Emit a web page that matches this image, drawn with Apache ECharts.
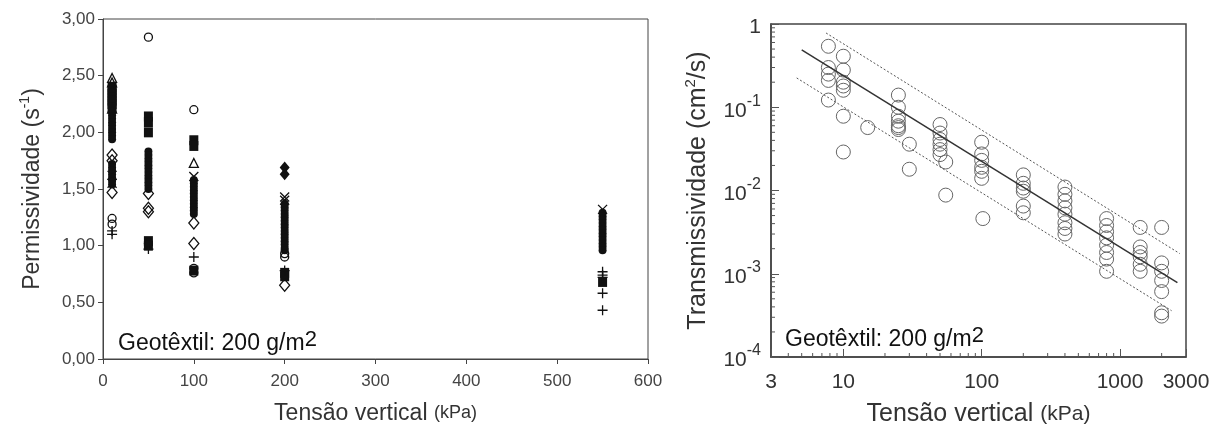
<!DOCTYPE html>
<html>
<head>
<meta charset="utf-8">
<script src="https://cdn.jsdelivr.net/npm/echarts@6/dist/echarts.min.js"></script>
<style>
html, body { margin: 0; background: #fff; }
#chart { width: 1222px; height: 432px; }
</style>
</head>
<body>
<div id="chart"></div>
<script>
// permissividade (s-1) x tensao vertical (kPa), one array per marker type
var circulosAbertos = [[10, 1.24], [10, 1.19], [50, 2.84], [50, 1.02], [100, 2.20], [100, 0.80], [100, 0.76], [200, 0.93], [200, 0.90]];
var quadradosCheios = [[10, 2.40], [10, 2.37], [10, 2.34], [10, 2.31], [10, 2.28], [10, 2.25], [10, 2.22], [50, 2.14], [50, 2.09], [50, 2.00], [50, 1.04], [50, 1.00], [100, 1.93], [100, 1.88], [100, 0.78], [200, 0.76], [200, 0.73], [550, 0.68]];
var triangulosAbertos = [[10, 2.48], [10, 2.44], [10, 2.21], [100, 1.73]];
var losangosAbertos = [[10, 1.80], [10, 1.75], [10, 1.47], [50, 1.46], [50, 1.33], [50, 1.30], [100, 1.20], [100, 1.02], [200, 0.65]];
var losangosCheios = [[200, 1.69], [200, 1.63]];
var cruzes = [[10, 1.62], [10, 1.55], [100, 1.61], [200, 1.43], [200, 1.40], [550, 1.32]];
var mais = [[10, 1.13], [10, 1.10], [50, 0.97], [100, 0.90], [200, 0.78], [550, 0.77], [550, 0.74], [550, 0.72], [550, 0.58], [550, 0.43]];
var pontosCheios = [
  [10, 2.18], [10, 2.15], [10, 2.12], [10, 2.09], [10, 2.06], [10, 2.03], [10, 2.00], [10, 1.97], [10, 1.94],
  [10, 1.72], [10, 1.69], [10, 1.66], [10, 1.63], [10, 1.60], [10, 1.57], [10, 1.54],
  [50, 1.83], [50, 1.80], [50, 1.77], [50, 1.74], [50, 1.71], [50, 1.68], [50, 1.65], [50, 1.62], [50, 1.59], [50, 1.56], [50, 1.53], [50, 1.50],
  [100, 1.58], [100, 1.55], [100, 1.52], [100, 1.49], [100, 1.46], [100, 1.43], [100, 1.40], [100, 1.37], [100, 1.34], [100, 1.31], [100, 1.28],
  [200, 1.37], [200, 1.34], [200, 1.31], [200, 1.28], [200, 1.25], [200, 1.22], [200, 1.19], [200, 1.16], [200, 1.13], [200, 1.10], [200, 1.07], [200, 1.04], [200, 1.01], [200, 0.98], [200, 0.96],
  [550, 1.29], [550, 1.26], [550, 1.23], [550, 1.20], [550, 1.17], [550, 1.14], [550, 1.11], [550, 1.08], [550, 1.05], [550, 1.02], [550, 0.99], [550, 0.96]
];

// transmissividade (cm2/s) x tensao vertical (kPa)
var transmissividade = [
  [7.8, 0.54], [7.8, 0.30], [7.8, 0.25], [7.8, 0.21], [7.8, 0.122],
  [10, 0.41], [10, 0.28], [10, 0.20], [10, 0.18], [10, 0.16], [10, 0.078], [10, 0.029],
  [15, 0.057],
  [25, 0.14], [25, 0.10], [25, 0.078], [25, 0.068], [25, 0.060], [25, 0.057], [25, 0.054],
  [30, 0.036], [30, 0.018],
  [50, 0.062], [50, 0.049], [50, 0.041], [50, 0.036], [50, 0.031], [50, 0.027],
  [55, 0.022], [55, 0.0088],
  [100, 0.038], [100, 0.0275], [100, 0.023], [100, 0.019], [100, 0.017], [100, 0.014], [102, 0.0046],
  [200, 0.0154], [200, 0.0122], [200, 0.0107], [200, 0.0098], [200, 0.0065], [200, 0.0054],
  [400, 0.011], [400, 0.009], [400, 0.0075], [400, 0.0062], [400, 0.0052], [400, 0.0041], [400, 0.0035], [400, 0.0030],
  [800, 0.0046], [800, 0.0038], [800, 0.0032], [800, 0.0027], [800, 0.0022], [800, 0.0018], [800, 0.0015], [800, 0.00107],
  [1400, 0.0036], [1400, 0.0021], [1400, 0.0018], [1400, 0.0016], [1400, 0.0013], [1400, 0.00107],
  [2000, 0.0036], [2000, 0.00135], [2000, 0.00107], [2000, 0.00083], [2000, 0.00061], [2000, 0.00034], [2000, 0.00031]
];
var ajuste = [[5, 0.49], [2600, 0.00078]];
var limiteSuperior = [[7.5, 0.78], [2700, 0.00175]];
var limiteInferior = [[4.6, 0.225], [2360, 0.00036]];

var xTicksMenores = [4, 5, 6, 7, 8, 9, 20, 30, 40, 50, 60, 70, 80, 90, 200, 300, 400, 500, 600, 700, 800, 900, 2000];
var yTicksMenores = [0.0002, 0.0003, 0.0004, 0.0005, 0.0006, 0.0007, 0.0008, 0.0009,
  0.002, 0.003, 0.004, 0.005, 0.006, 0.007, 0.008, 0.009,
  0.02, 0.03, 0.04, 0.05, 0.06, 0.07, 0.08, 0.09,
  0.2, 0.3, 0.4, 0.5, 0.6, 0.7, 0.8, 0.9];

var fonte = '"Liberation Sans", Arial, sans-serif';
var plus = 'path://M0,5L10,5M5,0L5,10';
var cross = 'path://M0,0L10,10M10,0L0,10';

function aberto(c) { return { color: 'transparent', borderColor: c || '#111', borderWidth: 1.3, opacity: 1 }; }
var cheio = { color: '#111', opacity: 1 };

function tickMenor(dir) {
  return function (params, api) {
    var p = api.coord([api.value(0), api.value(1)]);
    var s = dir === 'x'
      ? { x1: p[0], y1: p[1], x2: p[0], y2: p[1] - 4 }
      : { x1: p[0], y1: p[1], x2: p[0] + 4, y2: p[1] };
    return { type: 'line', shape: s, style: { stroke: '#555', lineWidth: 1 } };
  };
}

function richNome(tam, sub) {
  return {
    a: { fontSize: tam, fontFamily: fonte, color: '#333', lineHeight: tam + 6 },
    b: { fontSize: Math.round(tam * 0.6), fontFamily: fonte, color: '#333', verticalAlign: 'top', lineHeight: tam + 6 },
    c: { fontSize: sub, fontFamily: fonte, color: '#333', lineHeight: tam + 6 }
  };
}
var richGeo = {
  a: { fontSize: 23, fontWeight: 'normal', fontFamily: fonte, color: '#111', lineHeight: 30 },
  b: { fontSize: 22, fontWeight: 'normal', fontFamily: fonte, color: '#111', verticalAlign: 'top', lineHeight: 30, padding: [0, 0, 8, 0] }
};

var option = {
  animation: false,
  backgroundColor: '#fff',
  title: [
    { text: '{a|Geotêxtil: 200 g/m}{b|2}', left: 113, top: 324, textStyle: { fontWeight: 'normal', rich: richGeo } },
    { text: '{a|Geotêxtil: 200 g/m}{b|2}', left: 780, top: 320, textStyle: { fontWeight: 'normal', rich: richGeo } }
  ],
  grid: [
    { left: 103, top: 19, width: 545, height: 340, show: true, borderColor: '#444', borderWidth: 1 },
    { left: 771, top: 24, width: 415, height: 341, show: true, borderColor: '#444', borderWidth: 1.5 }
  ],
  xAxis: [
    {
      gridIndex: 0, type: 'value', min: 0, max: 600, interval: 100,
      name: '{a|Tensão vertical }{c|(kPa)}', nameLocation: 'middle', nameGap: 40,
      nameTextStyle: { rich: richNome(23, 18) },
      axisLine: { lineStyle: { color: '#444', width: 1 } },
      axisTick: { show: true, inside: false, length: 5, lineStyle: { color: '#444' } },
      axisLabel: { color: '#444', fontSize: 17, fontFamily: fonte, margin: 14 },
      splitLine: { show: false }
    },
    {
      gridIndex: 1, type: 'log', logBase: 10, min: 3, max: 3000,
      name: '{a|Tensão vertical }{c|(kPa)}', nameLocation: 'middle', nameGap: 42,
      nameTextStyle: { rich: richNome(25, 21) },
      axisLine: { lineStyle: { color: '#444', width: 1.5 } },
      axisTick: { show: true, inside: true, length: 8, lineStyle: { color: '#555' } },
      axisLabel: {
        color: '#333', fontSize: 21, fontFamily: fonte, margin: 15,
        formatter: function (v) { return String(Math.round(v)); }
      },
      splitLine: { show: false }
    }
  ],
  yAxis: [
    {
      gridIndex: 0, type: 'value', min: 0, max: 3, interval: 0.5,
      name: '{a|Permissividade (s}{b|-1}{a|)}', nameLocation: 'middle', nameGap: 56, nameRotate: 90,
      nameTextStyle: { rich: richNome(23, 17) },
      axisLine: { show: true, lineStyle: { color: '#444', width: 1 } },
      axisTick: { show: true, inside: false, length: 5, lineStyle: { color: '#444' } },
      axisLabel: {
        color: '#444', fontSize: 17, fontFamily: fonte, margin: 8,
        formatter: function (v) { return v.toFixed(2).replace('.', ','); }
      },
      splitLine: { show: false }
    },
    {
      gridIndex: 1, type: 'log', logBase: 10, min: 0.0001, max: 1,
      name: '{a|Transmissividade (cm}{b|2}{a|/s)}', nameLocation: 'middle', nameGap: 57, nameRotate: 90,
      nameTextStyle: { rich: richNome(25, 21) },
      axisLine: { show: true, lineStyle: { color: '#444', width: 1.5 } },
      axisTick: { show: true, inside: true, length: 8, lineStyle: { color: '#555' } },
      axisLabel: {
        margin: 10,
        formatter: function (v) {
          var e = Math.round(Math.log10(v));
          return e === 0 ? '{a|1}' : '{a|10}{b|' + e + '}';
        },
        rich: {
          a: { fontSize: 21, fontFamily: fonte, color: '#333', lineHeight: 28, verticalAlign: 'bottom' },
          b: { fontSize: 16, fontFamily: fonte, color: '#333', lineHeight: 28, verticalAlign: 'top' }
        }
      },
      splitLine: { show: false }
    }
  ],
  series: [
    { type: 'scatter', xAxisIndex: 0, yAxisIndex: 0, data: pontosCheios, symbol: 'circle', symbolSize: 8, itemStyle: cheio },
    { type: 'scatter', xAxisIndex: 0, yAxisIndex: 0, data: quadradosCheios, symbol: 'rect', symbolSize: [9, 10], itemStyle: cheio },
    { type: 'scatter', xAxisIndex: 0, yAxisIndex: 0, data: losangosCheios, symbol: 'diamond', symbolSize: [10, 12], itemStyle: cheio },
    { type: 'scatter', xAxisIndex: 0, yAxisIndex: 0, data: circulosAbertos, symbol: 'circle', symbolSize: 8, itemStyle: aberto() },
    { type: 'scatter', xAxisIndex: 0, yAxisIndex: 0, data: triangulosAbertos, symbol: 'triangle', symbolSize: 9, itemStyle: aberto() },
    { type: 'scatter', xAxisIndex: 0, yAxisIndex: 0, data: losangosAbertos, symbol: 'diamond', symbolSize: [10, 12], itemStyle: aberto() },
    { type: 'scatter', xAxisIndex: 0, yAxisIndex: 0, data: cruzes, symbol: cross, symbolSize: 9, itemStyle: aberto() },
    { type: 'scatter', xAxisIndex: 0, yAxisIndex: 0, data: mais, symbol: plus, symbolSize: 10, itemStyle: aberto() },

    { type: 'line', xAxisIndex: 1, yAxisIndex: 1, data: limiteSuperior, symbol: 'none', lineStyle: { color: '#555', width: 1, type: [2, 2] } },
    { type: 'line', xAxisIndex: 1, yAxisIndex: 1, data: limiteInferior, symbol: 'none', lineStyle: { color: '#555', width: 1, type: [2, 2] } },
    { type: 'line', xAxisIndex: 1, yAxisIndex: 1, data: ajuste, symbol: 'none', lineStyle: { color: '#333', width: 1.5 } },
    { type: 'scatter', xAxisIndex: 1, yAxisIndex: 1, data: transmissividade, symbol: 'circle', symbolSize: 14, itemStyle: { color: 'transparent', borderColor: '#666', borderWidth: 1, opacity: 1 } },
    { type: 'custom', xAxisIndex: 1, yAxisIndex: 1, renderItem: tickMenor('x'), data: xTicksMenores.map(function (v) { return [v, 0.0001]; }), silent: true },
    { type: 'custom', xAxisIndex: 1, yAxisIndex: 1, renderItem: tickMenor('y'), data: yTicksMenores.map(function (v) { return [3, v]; }), silent: true }
  ]
};

var chart = echarts.init(document.getElementById('chart'));
chart.setOption(option);
</script>
</body>
</html>
